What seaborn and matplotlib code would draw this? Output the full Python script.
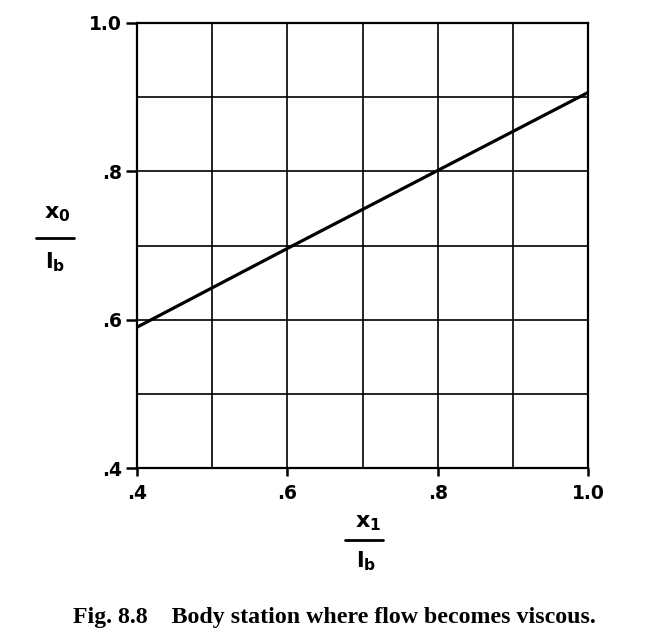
import matplotlib
matplotlib.use("Agg")
import matplotlib.pyplot as plt
import seaborn as sns
import pandas as pd
import numpy as np
from matplotlib.lines import Line2D

# Data
x_ratio = [0.4, 0.6, 0.8, 1.0]
y_ratio = [0.590, 0.696, 0.801, 0.906]
tick_vals = [0.4, 0.6, 0.8, 1.0]
tick_labels = [".4", ".6", ".8", "1.0"]
caption = "Fig. 8.8    Body station where flow becomes viscous."

sns.set_theme(style="white")
plt.rcParams['font.family'] = ['DejaVu Sans']
plt.rcParams['text.color'] = 'black'
plt.rcParams['xtick.color'] = 'black'
plt.rcParams['ytick.color'] = 'black'
plt.rcParams['xtick.labelcolor'] = 'black'
plt.rcParams['ytick.labelcolor'] = 'black'

df = pd.DataFrame({"x": x_ratio, "y": y_ratio})

fig = plt.figure(figsize=(6.71, 6.42), dpi=100)
ax = fig.add_axes([137/671, 1-468.3/642, (588-137)/671, (468.3-22.7)/642])

sns.lineplot(data=df, x="x", y="y", ax=ax, color="black", linewidth=2.3)

ax.set_xlim(0.4, 1.0)
ax.set_ylim(0.4, 1.0)
minor = np.round(np.arange(0.4, 1.001, 0.1), 2)
ax.set_xticks(minor, minor=True)
ax.set_yticks(minor, minor=True)
ax.set_xticks(tick_vals)
ax.set_yticks(tick_vals)
ax.set_xticklabels(tick_labels, fontweight="bold", fontsize=13.5, color="black")
ax.set_yticklabels(tick_labels, fontweight="bold", fontsize=13.5, color="black")
ax.grid(True, which="both", color="black", linewidth=1.2)
ax.tick_params(axis="y", which="major", left=True, direction="out", length=8, width=1.8, color="black", pad=3)
ax.tick_params(axis="x", which="major", bottom=True, direction="out", length=6, width=1.8, color="black", pad=5)
ax.tick_params(which="minor", length=0)
for s in ax.spines.values():
    s.set_color("black")
    s.set_linewidth(1.6)
ax.set_xlabel("")
ax.set_ylabel("")

# Y-axis fraction label x0 / lb
fig.text(57/671, 1-214/642, r"x$_{\mathbf{0}}$", fontsize=16, fontweight="bold", ha="center", va="center", color="black")
fig.add_artist(Line2D([36/671, 74/671], [1-238/642, 1-238/642], color="black", linewidth=2.0, transform=fig.transFigure))
fig.text(55/671, 1-262/642, r"l$_{\mathbf{b}}$", fontsize=16, fontweight="bold", ha="center", va="center", color="black")

# X-axis fraction label x1 / lb
fig.text(368/671, 1-523/642, r"x$_{\mathbf{1}}$", fontsize=16, fontweight="bold", ha="center", va="center", color="black")
fig.add_artist(Line2D([345/671, 383/671], [1-540/642, 1-540/642], color="black", linewidth=2.0, transform=fig.transFigure))
fig.text(366/671, 1-561/642, r"l$_{\mathbf{b}}$", fontsize=16, fontweight="bold", ha="center", va="center", color="black")

fig.text(73/671, 1-618/642, caption, fontsize=17.2, fontweight="bold",
         family=["Liberation Serif"], ha="left", va="center", color="black")

fig.savefig("out.png", dpi=100, facecolor="white")
